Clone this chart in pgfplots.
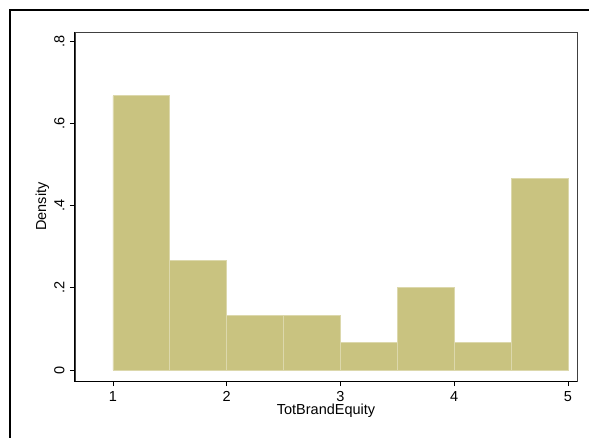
\documentclass[border=0pt]{standalone}
\usepackage{pgfplots}
\pgfplotsset{compat=1.18}
\usepackage{fontspec}
\setmainfont{Liberation Sans}
\definecolor{barfill}{RGB}{201,195,128}
\definecolor{baredge}{RGB}{220,216,172}
\begin{document}
\begin{tikzpicture}
\useasboundingbox (-75bp,-57bp) rectangle (514bp,381bp);
\draw[line width=2bp,black] (-64.5bp,-60bp) -- (-64.5bp,370.5bp) -- (520bp,370.5bp);
\begin{axis}[
  at={(0,0)}, anchor=south west,
  scale only axis,
  width=502bp, height=349bp,
  xmin=0.666, xmax=5.079,
  ymin=-0.0267, ymax=0.822,
  xtick={1,2,3,4,5},
  ytick={0,0.2,0.4,0.6,0.8},
  yticklabels={0,.2,.4,.6,.8},
  tick align=outside,
  tick pos=left,
  major tick length=5bp,
  tick style={black, line width=0.6bp},
  axis line style={black!75, line width=0.5bp},
  /pgf/number format/assume math mode=true,
  tick label style={font=\fontsize{14.5bp}{16bp}\selectfont},
  label style={font=\fontsize{14.5bp}{16bp}\selectfont},
  xticklabel style={yshift=-2bp},
  yticklabel style={rotate=90, anchor=south, yshift=2bp},
  xlabel={TotBrandEquity},
  ylabel={Density},
  xlabel style={at={(axis description cs:0.5,0)}, anchor=center, yshift=-30bp},
  ylabel style={at={(axis description cs:0,0.5)}, anchor=center, yshift=32.5bp},
  clip=false,
]
\addplot[ybar interval, fill=barfill, draw=baredge, line width=0.8bp]
  coordinates {(1,0.6667) (1.5,0.2667) (2,0.1333) (2.5,0.1333) (3,0.0667) (3.5,0.2) (4,0.0667) (4.5,0.4667) (5,0.4667)};
\draw[black, line width=1bp] (rel axis cs:0,1) -- (rel axis cs:0,0) -- (rel axis cs:1,0);
\end{axis}
\end{tikzpicture}
\end{document}
